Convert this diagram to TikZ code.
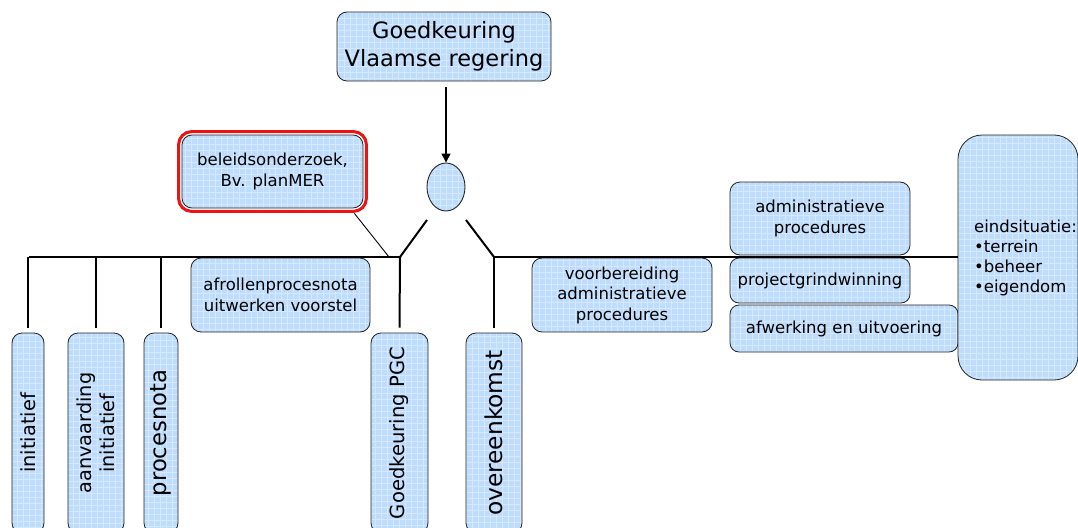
\documentclass[tikz,border=0pt]{standalone}
\usepackage{fontspec}
\setmainfont{DejaVu Sans}
\usetikzlibrary{arrows.meta,shapes.geometric}
\definecolor{boxfill}{RGB}{190,220,251}
\definecolor{gridc}{RGB}{214,232,253}
\definecolor{edgec}{RGB}{35,35,35}
\definecolor{redc}{RGB}{235,20,20}
\tikzset{
  gridfill/.style={fill=boxfill, path picture={\draw[gridc, line width=0.5pt]
      (path picture bounding box.south west) grid[step=6pt] (path picture bounding box.north east);}},
  box/.style={draw=edgec, line width=0.8pt, gridfill, rounded corners=10pt, align=center,
      inner sep=0pt, font=\fontsize{16.5}{20.5}\selectfont},
  vbox/.style={box, rotate=90, minimum width=200pt},
  conn/.style={line width=2pt, black},
  thinconn/.style={line width=0.9pt, black},
}
\begin{document}
\begin{tikzpicture}[x=1pt,y=-1pt]
\useasboundingbox (0,0) rectangle (1078,527);
\clip (0,0) rectangle (1078,527);

% top box, ellipse
\node[box, minimum width=214pt, minimum height=69pt, font=\fontsize{22.5}{28}\selectfont] (title) at (444,46.5) {Goedkeuring\\Vlaamse regering};
\node[draw=edgec, line width=0.9pt, gridfill, ellipse, minimum width=38pt, minimum height=48pt, inner sep=0pt] (ell) at (446,187) {};
\draw[line width=1.4pt, -{Triangle[length=9pt,width=9pt]}] ([yshift=-6pt]ell.north |- title.south) -- (ell.north);

% junctions
\coordinate (jL) at (400,257);
\coordinate (jR) at (494,257);
\coordinate (hL) at (29,257);
\coordinate (dl) at (427,220);
\coordinate (dr) at (466,220);
\coordinate (tl) at (389,257);

% red box
\node[box, minimum width=181pt, minimum height=73pt] (bel) at (272.5,171.5) {beleidsonderzoek,\\Bv. planMER};
\draw[redc, line width=3pt, rounded corners=13pt] ([shift={(-3,-3)}]bel.north west) rectangle ([shift={(3,3)}]bel.south east);

% left middle box
\node[box, minimum width=179pt, minimum height=74pt] (afr) at (280.5,295) {afrollenprocesnota\\uitwerken voorstel};

% right boxes
\node[box, minimum width=180pt, minimum height=74pt] (voo) at (622,295) {voorbereiding\\administratieve\\procedures};
\node[box, minimum width=180pt, minimum height=73pt] (adm) at (820,218.5) {administratieve\\procedures};
\node[box, minimum width=180pt, minimum height=45pt, rounded corners=9pt] (prj) at (820,280.5) {projectgrindwinning};
\node[box, minimum width=228pt, minimum height=47pt, rounded corners=9pt] (afw) at (844,328.5) {afwerking en uitvoering};
\node[box, minimum width=120pt, minimum height=245pt, rounded corners=24pt] (eind) at (1018,257.5) {};
\node[align=left, anchor=west, inner sep=0pt, font=\fontsize{16.5}{20}\selectfont] (eindtxt) at (974,258) {eindsituatie:\\•terrein\\•beheer\\•eigendom};

% vertical boxes
\node[vbox, minimum height=32pt, font=\fontsize{19.4}{23}\selectfont] (ini) at (28,433) {initiatief};
\node[vbox, minimum height=56pt, font=\fontsize{19.3}{23.5}\selectfont] (aan) at (96,433) {aanvaarding\\initiatief};
\node[vbox, minimum height=34pt, font=\fontsize{22.7}{26}\selectfont] (pro) at (161,433) {procesnota};
\node[vbox, minimum height=57pt, font=\fontsize{19.6}{23}\selectfont] (pgc) at (399.5,433) {Goedkeuring PGC};
\node[vbox, minimum height=56pt, font=\fontsize{23.3}{27}\selectfont] (ovk) at (494,433) {overeenkomst};

% connectors
\draw[conn] (hL) -- (jL);
\draw[conn] (jR) -- (eind.west |- jR);
\draw[conn] (dl) -- (jL);
\draw[conn] (dr) -- (jR);
\draw[conn] (ini.east |- hL) -- ([yshift=5pt]ini.east);
\draw[conn] (aan.east |- hL) -- ([yshift=5pt]aan.east);
\draw[conn] (pro.east |- hL) -- ([yshift=5pt]pro.east);
\draw[conn] (jL) -- ([yshift=5pt]pgc.east);
\draw[conn] (jR) -- ([yshift=5pt]ovk.east);
\draw[thinconn] ([shift={(-9,5)}]bel.south east) -- (tl);
\end{tikzpicture}
\end{document}
